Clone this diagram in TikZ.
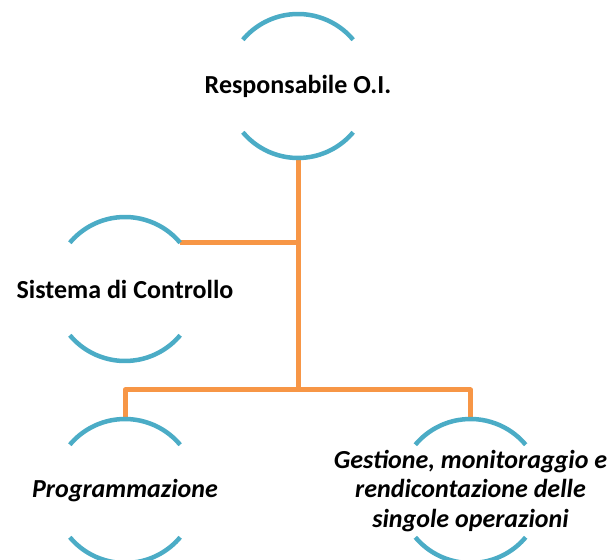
\documentclass[tikz,border=0pt]{standalone}
\usepackage{fontspec}
\setmainfont{Carlito}
\definecolor{ringblue}{HTML}{4BACC6}
\definecolor{linkorange}{HTML}{F79646}

\begin{document}
\begin{tikzpicture}[x=1pt,y=1pt,
  ring/.style={circle,minimum size=144pt,inner sep=0pt,outer sep=0pt},
  arcline/.style={ringblue,line width=4.5pt},
  link/.style={linkorange,line width=5pt,line join=round},
  lbl/.style={font=\fontsize{26}{29.3}\selectfont\bfseries,align=center}]
\useasboundingbox (0,0) rectangle (612,559);
\node[ring] (resp) at (298,473) {};
\node[ring] (sys) at (125,270) {};
\node[ring] (prog) at (125,68) {};
\node[ring] (gest) at (470.5,68) {};
\coordinate (bus) at (298,169);
\draw[link] (sys.40) -- (sys.40 -| resp);
\draw[link] (resp.south) -- (bus);
\draw[link] (prog.north) |- (bus) -| (gest.north);
\foreach \ring in {resp,sys,prog,gest} {
    \draw[arcline] (\ring.40) arc[start angle=40,end angle=140,radius=72pt];
    \draw[arcline] (\ring.220) arc[start angle=220,end angle=320,radius=72pt];
}
\node[lbl] (resp-t) at (resp) {Responsabile O.I.};
\node[lbl] (sys-t) at (sys) {Sistema di Controllo};
\node[lbl,font=\fontsize{26}{29.3}\selectfont\bfseries\itshape] (prog-t) at (prog) {Programmazione};
\node[lbl,font=\fontsize{26}{29.3}\selectfont\bfseries\itshape] (gest-t) at (gest)
    {Gestione, monitoraggio e\\rendicontazione delle\\singole operazioni};
\end{tikzpicture}
\end{document}
